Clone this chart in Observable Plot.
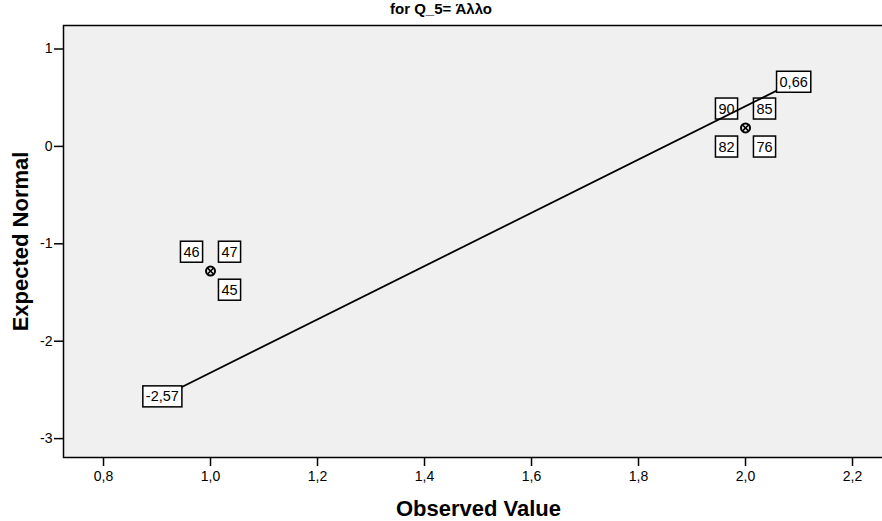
<!DOCTYPE html>
<html>
<head>
<meta charset="utf-8">
<script src="https://cdn.jsdelivr.net/npm/d3@7"></script>
<script src="https://cdn.jsdelivr.net/npm/@observablehq/plot@0.6"></script>
<style>
  html, body { margin: 0; padding: 0; background: #fff; overflow: hidden; }
  #title { width: 882px; height: 18px; line-height: 27px; text-align: center; overflow: visible;
           font: bold 15px "Liberation Sans", Arial, sans-serif; color: #000; }
  svg { overflow: visible; }
</style>
</head>
<body>
<div id="title">for Q_5= Άλλο</div>
<div id="chart"></div>
<script>
// Observed values and their expected normal scores
const observed = [1, 2];
const expectedNormal = [-1.28, 0.19];

// Case labels attached to the points
const caseIds = [46, 47, 45, 90, 85, 82, 76];
const caseObserved = [1, 1, 1, 2, 2, 2, 2];
const casePlacement = ["ul", "ur", "lr", "ul", "ur", "ll", "lr"];

// Reference line end points (labelled with their expected value)
const lineObserved = [0.91, 2.09];
const lineExpected = [-2.57, 0.66];

// Axis ticks
const xTicks = [0.8, 1.0, 1.2, 1.4, 1.6, 1.8, 2.0, 2.2];
const yTicks = [1, 0, -1, -2, -3];

const points = observed.map((x, i) => ({x, y: expectedNormal[i]}));
const cases = caseIds.map((id, i) => ({
  id, x: caseObserved[i],
  y: expectedNormal[observed.indexOf(caseObserved[i])],
  place: casePlacement[i]
}));
const lineEnds = lineObserved.map((x, i) => ({x, y: lineExpected[i]}));

const fmt = v => String(v).replace(".", ",");
const off = 19;
const placeOffset = {ul: [-off, -off], ur: [off, -off], ll: [-off, off], lr: [off, off]};
const labelFont = 14.5;

const caseMarks = Object.entries(placeOffset).map(([p, [dx, dy]]) =>
  Plot.text(cases.filter(d => d.place === p), {
    x: "x", y: "y", text: d => String(d.id), dx, dy,
    fontSize: labelFont, fill: "black"
  })
);

const chart = Plot.plot({
  width: 882,
  height: 503,
  marginLeft: 63,
  marginRight: -11,
  marginTop: 7,
  marginBottom: 64,
  style: {fontFamily: "'Liberation Sans', Arial, sans-serif", background: "white", color: "black"},
  x: {domain: [0.7252, 2.2766]},
  y: {domain: [-3.194, 1.2413]},
  marks: [
    Plot.frame({fill: "#f0f0f0", stroke: null}),
    Plot.axisX({ticks: xTicks, tickSize: 9, tickPadding: 5, fontSize: 14,
      tickFormat: d => d.toFixed(1).replace(".", ","), label: null, strokeWidth: 1.5}),
    Plot.axisY({ticks: yTicks, tickSize: 9, tickPadding: 2, fontSize: 14,
      tickFormat: d => String(d), label: null, strokeWidth: 1.5}),
    ...caseMarks,
    Plot.line(lineEnds, {x: "x", y: "y", stroke: "black", strokeWidth: 1.8}),
    Plot.text(lineEnds, {x: "x", y: "y", text: d => fmt(d.y), fontSize: labelFont, fill: "black"}),
    Plot.dot(points, {x: "x", y: "y", r: 4.5, stroke: "black", strokeWidth: 2, fill: "none"}),
    Plot.dot(points, {x: "x", y: "y", r: 3, symbol: "times", stroke: "black", strokeWidth: 1.6}),
    Plot.text(["Observed Value"], {frameAnchor: "bottom", dy: 58, text: d => d, textAnchor: "middle",
      fontSize: 22, fontWeight: "bold", fill: "black"}),
    Plot.text(["Expected Normal"], {frameAnchor: "left", dx: -43, rotate: -90, text: d => d,
      textAnchor: "middle", fontSize: 22, fontWeight: "bold", fill: "black"}),
    Plot.frame({stroke: "black", strokeWidth: 1.5})
  ]
});

document.getElementById("chart").append(chart);

// Draw white boxes behind the numeric data labels
d3.select(chart).selectAll('g[aria-label="text"] text').each(function() {
  const t = this;
  if (!/^[-\d]/.test(t.textContent)) return;
  const b = t.getBBox();
  const padX = 3, h = 21;
  const cy = b.y + b.height / 2;
  const r = document.createElementNS("http://www.w3.org/2000/svg", "rect");
  r.setAttribute("x", b.x - padX);
  r.setAttribute("y", cy - h / 2);
  r.setAttribute("width", b.width + 2 * padX);
  r.setAttribute("height", h);
  r.setAttribute("fill", "white");
  r.setAttribute("stroke", "black");
  r.setAttribute("stroke-width", 1.5);
  const tr = t.getAttribute("transform");
  if (tr) r.setAttribute("transform", tr);
  t.parentNode.insertBefore(r, t);
});
</script>
</body>
</html>
